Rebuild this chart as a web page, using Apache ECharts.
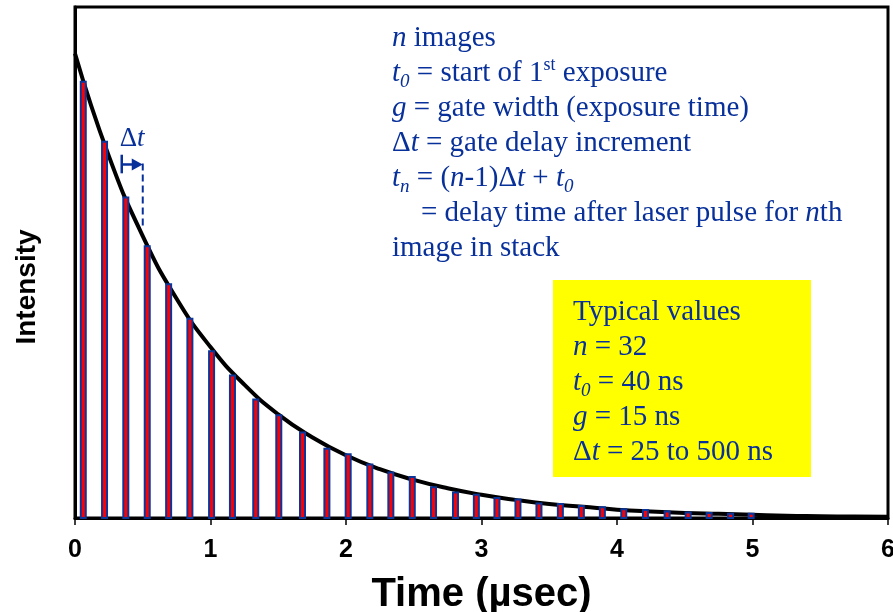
<!DOCTYPE html>
<html><head><meta charset="utf-8">
<script src="https://cdn.jsdelivr.net/npm/echarts@6/dist/echarts.min.js"></script>
<style>html,body{margin:0;padding:0;background:#fff}#c{width:893px;height:612px}</style>
</head><body><div id="c"></div><script>
// Gate (image) positions in µs and measured intensities (normalized, curve start = 1)
const gateTimes = [0.061,0.218,0.375,0.533,0.691,0.848,1.008,1.162,1.334,1.504,1.679,1.859,2.016,2.176,2.331,2.489,2.646,2.808,2.962,3.114,3.269,3.424,3.582,3.737,3.892,4.050,4.210,4.370,4.525,4.680,4.838,4.990];
const gateIntensity = [0.939,0.810,0.690,0.585,0.503,0.429,0.359,0.307,0.255,0.221,0.184,0.149,0.137,0.115,0.098,0.088,0.066,0.055,0.050,0.043,0.040,0.031,0.030,0.026,0.023,0.019,0.017,0.014,0.012,0.011,0.009,0.009];
// Decay curve readings
const curveTimes = [0,0.25,0.5,0.75,1,1.25,1.5,1.75,2,2.25,2.5,2.75,3,3.25,3.5,3.75,4,4.25,4.5,4.75,5,5.25,5.5,5.75,6];
const curveIntensity = [1.000,0.779,0.607,0.472,0.368,0.287,0.223,0.174,0.135,0.105,0.082,0.064,0.050,0.039,0.030,0.024,0.018,0.014,0.011,0.009,0.007,0.005,0.004,0.003,0.0025];
const xTickLabels = ['0','1','2','3','4','5','6'];
const xName = 'Time (µsec)';
const yName = 'Intensity';
const noteLines = [
 '{i|n}{r| images}',
 '{i|t}{sub|0}{r| = start of 1}{sup|st}{r| exposure}',
 '{i|g}{r| = gate width (exposure time)}',
 '{r|Δ}{i|t}{r| = gate delay increment}',
 '{i|t}{sub|n}{r| = (}{i|n}{r|-1)Δ}{i|t}{r| + }{i|t}{sub|0}',
 '{r|    = delay time after laser pulse for }{i|n}{r|th}',
 '{r|image in stack}'
];
const typicalLines = [
 '{r|Typical values}',
 '{i|n}{r| = 32}',
 '{i|t}{sub|0}{r| = 40 ns}',
 '{i|g}{r| = 15 ns}',
 '{r|Δ}{i|t}{r| = 25 to 500 ns}'
];

const BLUE = '#08309a';
const BAR_BLUE = '#0b3599';
const SERIF = '"Liberation Serif","Times New Roman",serif';
const SANS = '"Liberation Sans",Arial,sans-serif';
const richStyles = {
  r:   {fontFamily: SERIF, fontSize: 29, lineHeight: 35, fill: BLUE},
  i:   {fontFamily: SERIF, fontSize: 29, lineHeight: 35, fontStyle: 'italic', fill: BLUE},
  sub: {fontFamily: SERIF, fontSize: 19, lineHeight: 19, fontStyle: 'italic', fill: BLUE, verticalAlign: 'bottom'},
  sup: {fontFamily: SERIF, fontSize: 18, lineHeight: 20, fill: BLUE, verticalAlign: 'top'}
};

const chart = echarts.init(document.getElementById('c'), null, {renderer: 'canvas'});
const option = {
  backgroundColor: '#fff',
  animation: false,
  grid: {left: 75, right: 5, top: 7, bottom: 94, show: true, borderColor: '#000', borderWidth: 3,
         backgroundColor: 'transparent', containLabel: false, outerBoundsMode: 'none'},
  xAxis: {
    type: 'value', min: 0, max: 6, interval: 1,
    axisLine: {show: true, lineStyle: {color: '#000', width: 3}},
    axisTick: {show: true, length: 7, lineStyle: {color: '#000', width: 1.5}},
    splitLine: {show: false},
    axisLabel: {margin: 20, fontFamily: SANS, fontWeight: 'bold', fontSize: 25, color: '#000',
      hideOverlap: false, formatter: (v) => xTickLabels[Math.round(v)]},
    name: xName, nameLocation: 'middle', nameGap: 57, nameMoveOverlap: false,
    nameTextStyle: {fontFamily: SANS, fontWeight: 'bold', fontSize: 40, color: '#000'}
  },
  yAxis: {
    type: 'value', min: 0, max: 1.1,
    axisLine: {show: true, lineStyle: {color: '#000', width: 3}},
    axisTick: {show: false}, axisLabel: {show: false}, splitLine: {show: false}
  },
  series: [
    {
      type: 'line', data: curveTimes.map((t, k) => [t, curveIntensity[k]]),
      smooth: true, showSymbol: false, symbol: 'none', z: 2,
      lineStyle: {color: '#000', width: 4}
    },
    {
      type: 'custom', z: 3,
      data: gateTimes.map((t, k) => [t, gateIntensity[k]]),
      encode: {x: 0, y: 1},
      renderItem: function (params, api) {
        const top = api.coord([api.value(0), api.value(1)]);
        const base = api.coord([api.value(0), 0]);
        const w = 5;
        return {
          type: 'rect',
          shape: {x: top[0] - w / 2, y: top[1], width: w, height: base[1] - top[1]},
          style: {fill: '#ff0000', stroke: BAR_BLUE, lineWidth: 2}
        };
      }
    }
  ]
};
chart.setOption(option);

// Δt annotation placed in data coordinates
const px = (t, v) => chart.convertToPixel({gridIndex: 0}, [t, v]);
const a0 = px(0.345, 0.761), a1 = px(0.50, 0.761);
const s0 = px(0.345, 0.782), s1 = px(0.345, 0.742);
const d0 = px(0.50, 0.763), d1 = px(0.50, 0.627);
chart.setOption({graphic: [
  {type: 'text', x: 27, y: 287, rotation: Math.PI / 2,
   style: {text: yName, font: 'bold 28px "Liberation Sans", Arial, sans-serif', fill: '#000', align: 'center', verticalAlign: 'middle'}},
  {type: 'text', x: 392, y: 21, z: 10,
   style: {text: noteLines.join('\n'), rich: richStyles, fill: BLUE, align: 'left', verticalAlign: 'top'}},
  {type: 'rect', shape: {x: 553, y: 280, width: 258, height: 197}, z: 9, style: {fill: '#ffff00'}},
  {type: 'text', x: 573, y: 295, z: 10,
   style: {text: typicalLines.join('\n'), rich: richStyles, fill: BLUE, align: 'left', verticalAlign: 'top'}},
  {type: 'line', z: 10, shape: {x1: s0[0], y1: s0[1], x2: s1[0], y2: s1[1]}, style: {stroke: BLUE, lineWidth: 2.5}},
  {type: 'line', z: 10, shape: {x1: a0[0], y1: a0[1], x2: a1[0] - 8, y2: a1[1]}, style: {stroke: BLUE, lineWidth: 2.5}},
  {type: 'polygon', z: 10, shape: {points: [[a1[0] - 11, a1[1] - 6], [a1[0] - 11, a1[1] + 6], [a1[0], a1[1]]]}, style: {fill: BLUE}},
  {type: 'line', z: 10, shape: {x1: d0[0], y1: d0[1], x2: d1[0], y2: d1[1]}, style: {stroke: BLUE, lineWidth: 2, lineDash: [7, 4]}},
  {type: 'text', x: s0[0] - 2, y: s0[1] - 2, z: 10,
   style: {text: '{d|Δ}{it|t}', rich: {d: {fontFamily: SERIF, fontSize: 27, fill: BLUE}, it: {fontFamily: SERIF, fontSize: 27, fontStyle: 'italic', fill: BLUE}}, align: 'left', verticalAlign: 'bottom'}}
]});
</script></body></html>
